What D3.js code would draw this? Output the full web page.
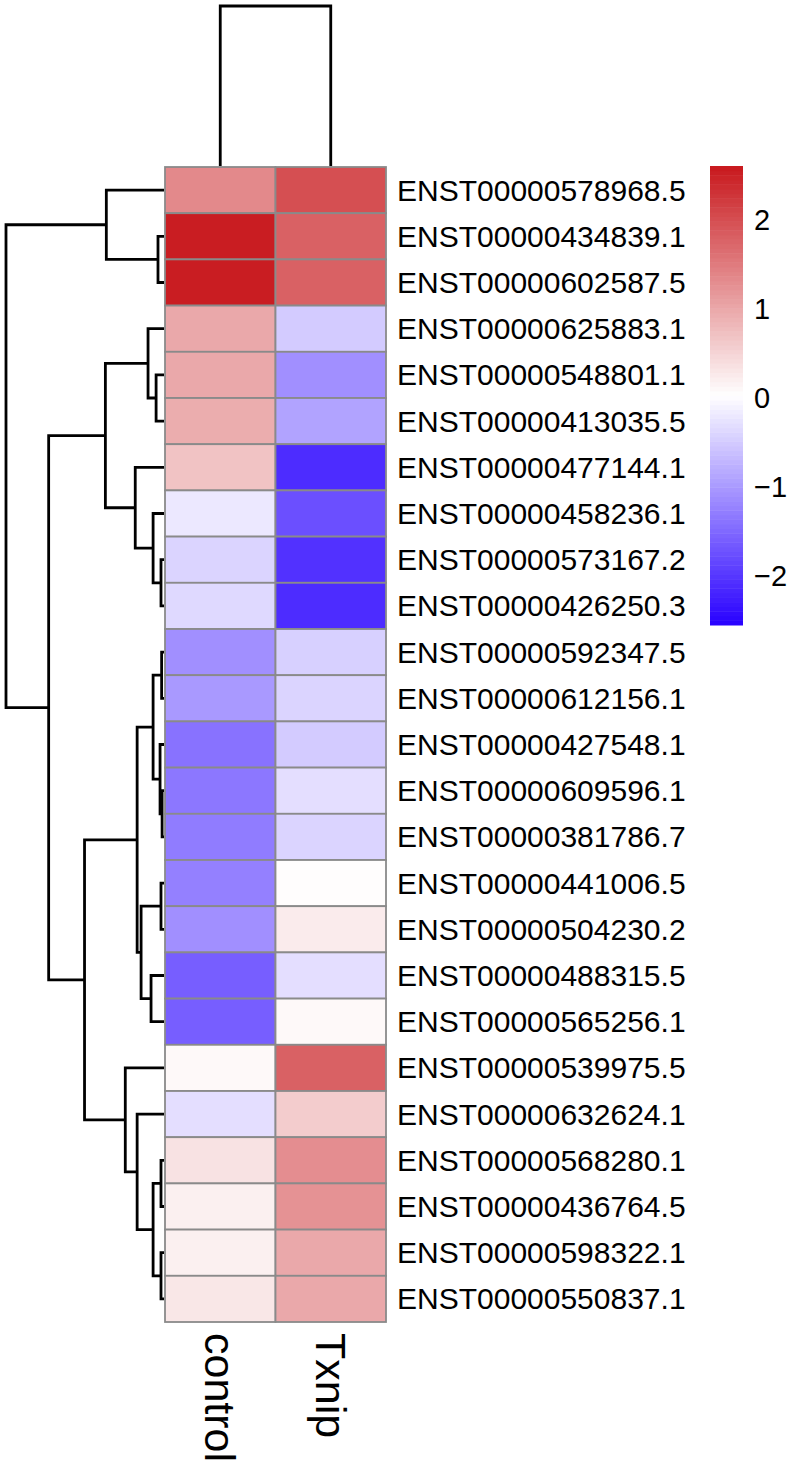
<!DOCTYPE html>
<html>
<head>
<meta charset="utf-8">
<script src="https://cdn.jsdelivr.net/npm/d3@7"></script>
<style>
  body { margin: 0; background: #fff; }
  text { font-family: Arial, "Liberation Sans", sans-serif; fill: #000; }
</style>
</head>
<body>
<div class="container"></div>
<script>
const WIDTH = 794;
const HEIGHT = 1467;

var genes = [
    'ENST00000578968.5', 'ENST00000434839.1', 'ENST00000602587.5', 'ENST00000625883.1',
    'ENST00000548801.1', 'ENST00000413035.5', 'ENST00000477144.1', 'ENST00000458236.1',
    'ENST00000573167.2', 'ENST00000426250.3', 'ENST00000592347.5', 'ENST00000612156.1',
    'ENST00000427548.1', 'ENST00000609596.1', 'ENST00000381786.7', 'ENST00000441006.5',
    'ENST00000504230.2', 'ENST00000488315.5', 'ENST00000565256.1', 'ENST00000539975.5',
    'ENST00000632624.1', 'ENST00000568280.1', 'ENST00000436764.5', 'ENST00000598322.1',
    'ENST00000550837.1'
];
var samples = ['control', 'Txnip'];

var controlVals = [1.35, 2.55, 2.55, 1.0, 1.0, 0.95, 0.7, -0.2, -0.4, -0.35,
    -1.1, -1.0, -1.4, -1.35, -1.3, -1.25, -1.1, -1.6, -1.6, 0.1,
    -0.3, 0.35, 0.2, 0.2, 0.3];
var txnipVals = [2.0, 1.8, 1.8, -0.5, -1.1, -0.9, -2.1, -1.75, -2.05, -2.1,
    -0.45, -0.4, -0.5, -0.3, -0.4, 0.05, 0.25, -0.3, 0.1, 1.8,
    0.6, 1.3, 1.25, 1.0, 1.0];

// hclust style merges: negative = leaf -(row+1), positive = earlier merge step
var rowMerges = [
    [-14, -15, 0.12], [-11, -12, 0.15], [-9, -10, 0.19], [-16, -17, 0.19],
    [-22, -23, 0.19], [-24, -25, 0.19], [-13, 1, 0.25], [-2, -3, 0.38],
    [-5, -6, 0.50], [-8, 3, 0.69], [2, 7, 0.69], [5, 6, 0.69],
    [-18, -19, 0.82], [-4, 9, 1.01], [4, 13, 1.45], [11, 15, 1.70],
    [-21, 12, 1.70], [-7, 10, 1.82], [-20, 17, 2.45], [-1, 8, 3.65],
    [14, 18, 3.71], [16, 19, 5.03], [21, 22, 7.30], [20, 23, 10.0]
];
var colMerges = [[-1, -2, 4.8]];

var legendTicks = [-2, -1, 0, 1, 2];
var valueRange = [-2.55, 2.61];

var buildTree = function(merges) {
    var nodes = merges.map(() => null);
    var get = (k) => k < 0 ? { leaf: -k - 1, height: 0 } : nodes[k - 1];
    merges.forEach((m, i) => {
        nodes[i] = { height: m[2], children: [get(m[0]), get(m[1])] };
    });
    return d3.hierarchy(nodes[nodes.length - 1]);
};

var elbowPaths = function(root, pos, hgt, horizontal) {
    root.eachAfter((n) => {
        n.pos = n.children ? d3.mean(n.children, (c) => c.pos) : pos(n.data.leaf);
    });
    var paths = [];
    root.each((n) => {
        if (!n.children) return;
        var a = n.children[0], b = n.children[1];
        var h = hgt(n.data.height), ha = hgt(a.data.height), hb = hgt(b.data.height);
        if (horizontal) {
            paths.push(`M${ha},${a.pos}H${h}V${b.pos}H${hb}`);
        } else {
            paths.push(`M${a.pos},${ha}V${h}H${b.pos}V${hb}`);
        }
    });
    return paths;
};

var fillLayout = function() {
    var svg = d3.select('.container').append('svg')
        .attr('width', WIDTH)
        .attr('height', HEIGHT);

    var yScale = d3.scaleBand().domain(d3.range(genes.length)).range([167, 1322]);
    var xScale = d3.scaleBand().domain(d3.range(samples.length)).range([165, 386]);

    var color = d3.scaleLinear()
        .domain([valueRange[0], (valueRange[0] + valueRange[1]) / 2, valueRange[1]])
        .range(['#2800ff', '#ffffff', '#c8181d']);

    var cells = [];
    genes.forEach((g, i) => {
        cells.push({ r: i, c: 0, v: controlVals[i] });
        cells.push({ r: i, c: 1, v: txnipVals[i] });
    });

    svg.append('g').selectAll('rect').data(cells).enter()
        .append('rect')
        .attr('x', (d) => xScale(d.c))
        .attr('y', (d) => yScale(d.r))
        .attr('width', xScale.bandwidth())
        .attr('height', yScale.bandwidth())
        .attr('fill', (d) => color(d.v))
        .attr('stroke', '#8a8a8a')
        .attr('stroke-width', 1.8);

    // row dendrogram
    var rowTree = buildTree(rowMerges);
    var rowH = d3.scaleLinear().domain([0, 10]).range([164, 6]);
    svg.append('g').selectAll('path')
        .data(elbowPaths(rowTree, (i) => yScale(i) + yScale.bandwidth() / 2, rowH, true))
        .enter().append('path')
        .attr('d', (d) => d)
        .attr('fill', 'none')
        .attr('stroke', '#000')
        .attr('stroke-width', 2.8);

    // column dendrogram
    var colTree = buildTree(colMerges);
    var colH = d3.scaleLinear().domain([0, 4.8]).range([166, 6]);
    svg.append('g').selectAll('path')
        .data(elbowPaths(colTree, (i) => xScale(i) + xScale.bandwidth() / 2, colH, false))
        .enter().append('path')
        .attr('d', (d) => d)
        .attr('fill', 'none')
        .attr('stroke', '#000')
        .attr('stroke-width', 2.8);

    // row labels
    svg.append('g').selectAll('text').data(genes).enter()
        .append('text')
        .attr('x', 397)
        .attr('y', (d, i) => yScale(i) + yScale.bandwidth() / 2)
        .attr('dominant-baseline', 'central')
        .style('font-size', '30px')
        .text((d) => d);

    // column labels
    svg.append('g').selectAll('text').data(samples).enter()
        .append('text')
        .attr('transform', (d, i) => `translate(${xScale(i) + xScale.bandwidth() / 2},1333) rotate(90)`)
        .attr('dominant-baseline', 'central')
        .style('font-size', '43px')
        .text((d) => d);

    // colour legend
    var legY = d3.scaleLinear().domain(valueRange).range([625, 166]);
    var steps = d3.range(100).map((k) => valueRange[0] + (valueRange[1] - valueRange[0]) * k / 100);
    var stepH = (valueRange[1] - valueRange[0]) / 100;
    var leg = svg.append('g');
    leg.selectAll('rect').data(steps).enter()
        .append('rect')
        .attr('x', 710)
        .attr('width', 33)
        .attr('y', (d) => legY(d + stepH))
        .attr('height', (d) => legY(d) - legY(d + stepH) + 0.5)
        .attr('fill', (d) => color(d + stepH / 2));
    leg.selectAll('text').data(legendTicks).enter()
        .append('text')
        .attr('x', 754)
        .attr('y', (d) => legY(d))
        .attr('dominant-baseline', 'central')
        .style('font-size', '29px')
        .text((d) => d < 0 ? '\u2212' + Math.abs(d) : d);
};
window.onload = fillLayout;
</script>
</body>
</html>
